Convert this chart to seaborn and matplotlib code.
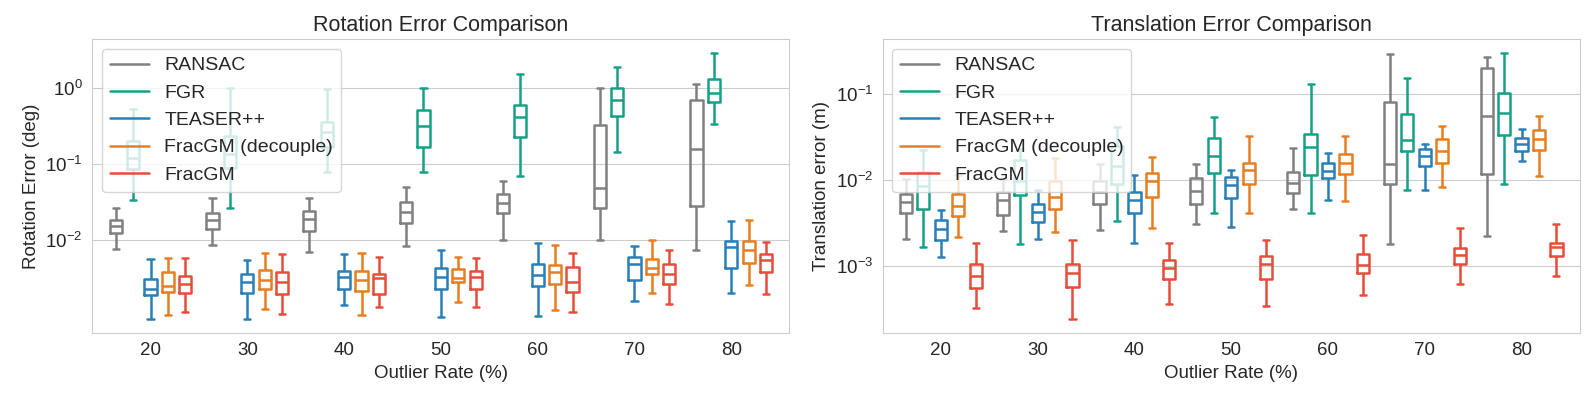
import pandas as pd
import matplotlib
matplotlib.use('Agg')
import matplotlib.pyplot as plt
from matplotlib.lines import Line2D
import seaborn as sns

sns.set_style('whitegrid')
plt.rcParams['font.family'] = ['Liberation Sans', 'DejaVu Sans']
plt.rcParams['font.size'] = 13.5

rates = [20, 30, 40, 50, 60, 70, 80]
methods = ['RANSAC', 'FGR', 'TEASER++', 'FracGM (decouple)', 'FracGM']
colors = ['#808080', '#16a085', '#2980b9', '#e67e22', '#e74c3c']

# each box: [low whisker, Q1, median, Q3, high whisker], one per outlier rate
rot_ransac = [[0.00762, 0.01236, 0.01545, 0.0183, 0.0264],
              [0.00869, 0.0141, 0.0185, 0.0231, 0.0364],
              [0.00702, 0.0133, 0.0193, 0.0243, 0.0364],
              [0.00834, 0.0167, 0.0236, 0.0316, 0.0498],
              [0.0101, 0.0229, 0.031, 0.0403, 0.0598],
              [0.01, 0.0269, 0.0493, 0.333, 1.0],
              [0.00746, 0.028, 0.159, 0.695, 1.15]]
rot_fgr = [[0.034, 0.0868, 0.12, 0.205, 0.529],
           [0.0269, 0.0886, 0.137, 0.238, 1.0],
           [0.0788, 0.17, 0.263, 0.363, 0.97],
           [0.0801, 0.167, 0.319, 0.519, 1.0],
           [0.0695, 0.229, 0.415, 0.61, 1.54],
           [0.144, 0.428, 0.702, 1.01, 1.89],
           [0.34, 0.654, 0.877, 1.33, 2.95]]
rot_teaser = [[0.00094, 0.00189, 0.00231, 0.0031, 0.00562],
              [0.000914, 0.00201, 0.0028, 0.00364, 0.00557],
              [0.0014, 0.00227, 0.0033, 0.00391, 0.0066],
              [0.00099, 0.00231, 0.00333, 0.00437, 0.00746],
              [0.00101, 0.00248, 0.00346, 0.00493, 0.0093],
              [0.00162, 0.00304, 0.00493, 0.00604, 0.0085],
              [0.00201, 0.00428, 0.0081, 0.0099, 0.0179]]
rot_decouple = [[0.00104, 0.00209, 0.00253, 0.00379, 0.00586],
                [0.00125, 0.00227, 0.00301, 0.00407, 0.00675],
                [0.00106, 0.00218, 0.00301, 0.00395, 0.00675],
                [0.00156, 0.0028, 0.00316, 0.00424, 0.00604],
                [0.0012, 0.00266, 0.00387, 0.00473, 0.00869],
                [0.00205, 0.00357, 0.00428, 0.00574, 0.0101],
                [0.00258, 0.00498, 0.00746, 0.0099, 0.0185]]
rot_fracgm = [[0.00113, 0.00205, 0.00264, 0.00336, 0.00586],
              [0.00109, 0.00197, 0.0028, 0.00379, 0.00655],
              [0.00134, 0.00197, 0.00316, 0.0036, 0.00597],
              [0.00134, 0.00231, 0.0033, 0.00395, 0.00586],
              [0.00116, 0.00211, 0.0028, 0.00451, 0.00675],
              [0.00147, 0.00264, 0.00364, 0.00483, 0.00746],
              [0.00195, 0.00383, 0.00551, 0.00655, 0.0096]]

tra_ransac = [[0.00205, 0.00416, 0.00553, 0.00692, 0.0101],
              [0.00254, 0.00394, 0.00579, 0.00724, 0.0101],
              [0.00258, 0.0053, 0.00724, 0.00965, 0.0152],
              [0.00303, 0.0053, 0.00751, 0.0106, 0.0155],
              [0.00455, 0.00711, 0.00923, 0.0123, 0.0232],
              [0.00181, 0.00883, 0.0154, 0.0807, 0.293],
              [0.0022, 0.0117, 0.0548, 0.2, 0.273]]
tra_fgr = [[0.00167, 0.00455, 0.0085, 0.0122, 0.0222],
           [0.00177, 0.00668, 0.00957, 0.0171, 0.0226],
           [0.00332, 0.00906, 0.0146, 0.0247, 0.0408],
           [0.00412, 0.0119, 0.019, 0.0306, 0.054],
           [0.00412, 0.0115, 0.0243, 0.0338, 0.13],
           [0.00764, 0.0214, 0.0293, 0.0589, 0.155],
           [0.00906, 0.033, 0.0594, 0.102, 0.303]]
tra_teaser = [[0.00125, 0.00201, 0.00265, 0.00338, 0.00443],
              [0.00207, 0.00323, 0.00427, 0.0053, 0.00757],
              [0.00185, 0.00416, 0.00579, 0.00717, 0.0113],
              [0.00285, 0.00622, 0.00867, 0.0109, 0.013],
              [0.00585, 0.0104, 0.0126, 0.0158, 0.0208],
              [0.00771, 0.0146, 0.0189, 0.0228, 0.0261],
              [0.0164, 0.0218, 0.0261, 0.0309, 0.039]]
tra_decouple = [[0.00218, 0.0038, 0.00497, 0.00692, 0.0113],
                [0.00245, 0.00455, 0.00634, 0.00982, 0.0181],
                [0.00278, 0.00634, 0.00973, 0.0119, 0.0185],
                [0.00408, 0.00906, 0.0132, 0.0157, 0.0321],
                [0.00564, 0.0116, 0.0158, 0.0201, 0.0321],
                [0.00828, 0.0158, 0.0216, 0.0296, 0.0423],
                [0.0111, 0.0222, 0.0303, 0.038, 0.0558]]
tra_fracgm = [[0.000318, 0.000553, 0.000764, 0.00104, 0.00184],
              [0.000237, 0.000569, 0.00082, 0.00105, 0.00198],
              [0.000357, 0.000699, 0.000948, 0.00117, 0.00185],
              [0.000341, 0.00071, 0.00104, 0.0013, 0.002],
              [0.000451, 0.000815, 0.00101, 0.00136, 0.00228],
              [0.000616, 0.00106, 0.00133, 0.00159, 0.00273],
              [0.000764, 0.00129, 0.00165, 0.00182, 0.00306]]

rot_yticks = [1e-2, 1e-1, 1e0]
tra_yticks = [1e-3, 1e-2, 1e-1]


def to_long(series):
    rows = []
    for method, boxes in zip(methods, series):
        for rate, stats in zip(rates, boxes):
            for v in stats:
                rows.append({'rate': rate, 'method': method, 'err': v})
    return pd.DataFrame(rows)


rot_df = to_long([rot_ransac, rot_fgr, rot_teaser, rot_decouple, rot_fracgm])
tra_df = to_long([tra_ransac, tra_fgr, tra_teaser, tra_decouple, tra_fracgm])

fig, axes = plt.subplots(1, 2, figsize=(15.94, 3.99), dpi=100)
fig.subplots_adjust(left=0.058, right=0.991, bottom=0.166, top=0.9015, wspace=0.134)

panels = [(rot_df, 'Rotation Error Comparison', 'Rotation Error (deg)', rot_yticks),
          (tra_df, 'Translation Error Comparison', 'Translation error (m)', tra_yticks)]

handles = [Line2D([0], [0], color=c, lw=1.8) for c in colors]

for ax, (df, title, ylabel, yticks) in zip(axes, panels):
    sns.boxplot(data=df, x='rate', y='err', hue='method', hue_order=methods,
                palette=colors, fill=False, width=0.9, gap=0.3, whis=(0, 100),
                showfliers=False, linewidth=1.8, log_scale=True, legend=False, ax=ax)
    ax.set_xlim(-0.6, 6.6)
    ax.set_yticks(yticks)
    ax.minorticks_off()
    ax.set_title(title, fontsize=15.5)
    ax.set_xlabel('Outlier Rate (%)', fontsize=13.5)
    ax.set_ylabel(ylabel, fontsize=13.5)
    ax.tick_params(labelsize=13.5)
    ax.legend(handles, methods, loc='upper left', fontsize=14)

fig.savefig('out.png', dpi=100)
